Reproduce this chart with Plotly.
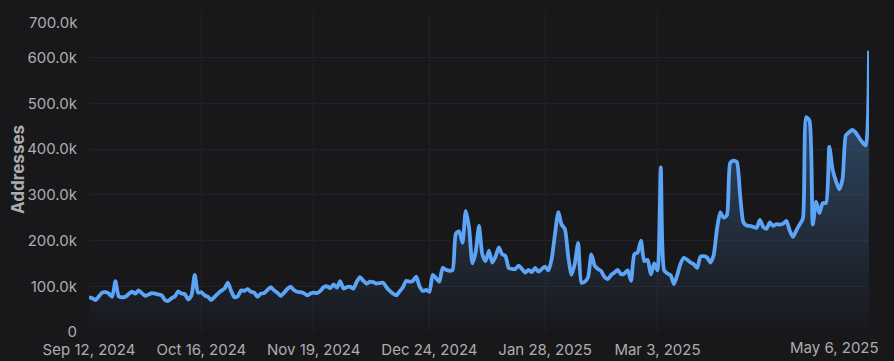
import pandas as pd
import plotly.graph_objects as go

start_date = "2024-09-12"
addresses_k = [
    76, 74, 70, 78, 86, 87, 84, 77, 111, 78,
    76, 77, 83, 88, 84, 91, 85, 79, 82, 85,
    84, 82, 80, 70, 68, 74, 78, 89, 84, 83,
    71, 80, 125, 86, 87, 80, 77, 70, 77, 84,
    90, 95, 108, 90, 76, 78, 91, 90, 94, 88,
    86, 77, 84, 85, 92, 98, 91, 86, 79, 86,
    94, 99, 92, 88, 87, 85, 80, 84, 86, 85,
    90, 98, 100, 96, 104, 97, 111, 95, 98, 99,
    95, 110, 120, 112, 106, 110, 109, 106, 107, 108,
    98, 90, 84, 80, 89, 98, 112, 110, 112, 121,
    100, 90, 92, 88, 125, 118, 110, 140, 136, 134,
    135, 215, 220, 195, 265, 228, 150, 175, 232, 170,
    155, 178, 152, 165, 185, 170, 166, 140, 138, 138,
    145, 138, 130, 136, 131, 140, 132, 138, 143, 135,
    160, 215, 262, 235, 225, 165, 125, 150, 195, 108,
    110, 120, 170, 145, 138, 133, 120, 116, 125, 130,
    136, 126, 128, 135, 112, 170, 174, 200, 155, 158,
    126, 150, 135, 360, 135, 128, 124, 105, 125, 150,
    162, 158, 152, 148, 140, 165, 166, 163, 152, 168,
    225, 262, 250, 255, 370, 375, 372, 300, 240, 233,
    232, 230, 228, 245, 230, 226, 240, 232, 236, 235,
    237, 243, 222, 208, 222, 235, 248, 470, 462, 235,
    285, 260, 282, 282, 405, 355, 330, 312, 335, 430,
    437, 442, 436, 425, 415, 408, 615,
]
x_tick_dates = ["2024-09-12", "2024-10-16", "2024-11-19", "2024-12-24",
                "2025-01-28", "2025-03-03", "2025-05-06"]
x_tick_labels = ["Sep 12, 2024", "Oct 16, 2024", "Nov 19, 2024", "Dec 24, 2024",
                 "Jan 28, 2025", "Mar 3, 2025", "May 6, 2025"]
y_tick_values = [0, 100000, 200000, 300000, 400000, 500000, 600000, 700000]
y_tick_labels = ["0", "100.0k", "200.0k", "300.0k", "400.0k", "500.0k", "600.0k", "700.0k"]
y_title = "Addresses"

dates = pd.date_range(start_date, periods=len(addresses_k), freq="D")
values = [v * 1000 for v in addresses_k]

BG = "#18181b"
LINE = "#5ca4f6"
GRID = "#222226"
TXT = "#adadb1"
FONT = "Inter, 'Noto Sans', sans-serif"

fig = go.Figure()
fig.add_trace(go.Scatter(
    x=dates, y=values, mode="lines",
    line=dict(color=LINE, width=3.8, shape="spline", smoothing=0.6),
    fill="tozeroy",
    fillgradient=dict(type="vertical",
                      colorscale=[[0, "rgba(92,164,246,0.0)"], [1, "rgba(92,164,246,0.42)"]]),
    hoverinfo="skip",
))

x_shown = x_tick_labels[:-1] + [""]
y_shown = y_tick_labels[:-1] + [""]
fig.update_layout(
    width=894, height=361,
    paper_bgcolor=BG, plot_bgcolor=BG,
    margin=dict(l=89, r=25, t=12, b=29),
    showlegend=False,
    font=dict(family=FONT, size=15, color=TXT),
    xaxis=dict(
        type="date", automargin=False,
        range=[dates[0], dates[-1]],
        tickvals=x_tick_dates, ticktext=x_shown,
        showgrid=True, gridcolor=GRID, gridwidth=1,
        zeroline=False, showline=False,
        ticks="outside", ticklen=4, tickcolor="rgba(0,0,0,0)",
        tickfont=dict(size=15, color=TXT),
    ),
    yaxis=dict(
        automargin=False,
        range=[0, 700000],
        tickvals=y_tick_values, ticktext=y_shown,
        showgrid=True, gridcolor=GRID, gridwidth=1,
        zeroline=False, showline=False,
        ticks="outside", ticklen=8, tickcolor="rgba(0,0,0,0)",
        tickfont=dict(size=15, color=TXT),
    ),
    annotations=[
        dict(text=x_tick_labels[-1], xref="paper", yref="paper",
             x=1.0, y=0, xanchor="right", yanchor="top", yshift=-4, xshift=12,
             showarrow=False, font=dict(size=15, color=TXT, family=FONT)),
        dict(text=y_tick_labels[-1], xref="paper", yref="y",
             x=0, y=y_tick_values[-1], xanchor="right", yanchor="middle",
             xshift=-9, yshift=-10,
             showarrow=False, font=dict(size=15, color=TXT, family=FONT)),
        dict(text="<b>" + y_title + "</b>", xref="paper", yref="paper",
             x=0, y=0.5, xanchor="center", yanchor="middle", xshift=-71, yshift=2,
             textangle=-90, showarrow=False,
             font=dict(size=17, color=TXT, family=FONT)),
    ],
)

fig.write_html(
    "out.html",
    config={"displayModeBar": False},
    post_script="document.body.style.margin='0';document.body.style.padding='0';"
                "document.body.style.background='#18181b';",
)
